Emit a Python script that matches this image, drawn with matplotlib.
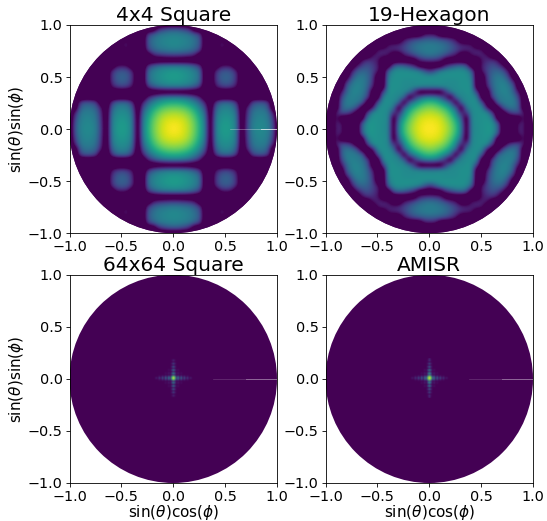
import matplotlib
matplotlib.use("Agg")
import matplotlib.pyplot as plt
from matplotlib.patches import Circle
import numpy as np

# one quadrant of each pattern (rows go up in y, columns go right in x)
square4 = [
    [1.00, .98, .94, .87, .77, .62, .42, 0, .42, .53, .55, .53, .42, 0, .18, .42, .47, .47, .44, .28, 0],
    [.98, .97, .93, .86, .76, .61, .41, 0, .42, .52, .54, .52, .41, 0, .17, .41, .46, .46, .43, .26, 0],
    [.94, .93, .90, .83, .73, .58, .38, 0, .40, .50, .52, .50, .40, 0, .15, .39, .44, .45, .41, .20, 0],
    [.87, .86, .83, .77, .67, .52, .32, 0, .36, .47, .49, .47, .36, 0, .12, .36, .42, .42, .38, .10, 0],
    [.77, .76, .73, .67, .57, .43, .22, 0, .28, .42, .44, .42, .28, 0, .06, .30, .36, .37, .30, 0, 0],
    [.62, .61, .58, .52, .43, .30, .08, 0, .14, .32, .35, .32, .14, 0, 0, .18, .26, .27, .18, 0, 0],
    [.42, .41, .38, .32, .22, .08, 0, 0, 0, 0, 0, 0, 0, 0, 0, 0, 0, 0, 0, 0, 0],
    [0, 0, 0, 0, 0, 0, 0, 0, 0, 0, 0, 0, 0, 0, 0, 0, 0, 0, 0, 0, 0],
    [.42, .42, .40, .36, .28, .14, 0, 0, .04, .16, .20, .16, .04, 0, 0, 0, 0, 0, 0, 0, 0],
    [.53, .52, .50, .47, .42, .32, 0, 0, .12, .27, .30, .27, .12, 0, 0, 0, .07, .04, 0, 0, 0],
    [.55, .54, .52, .49, .44, .35, 0, 0, .14, .29, .32, .29, .14, 0, 0, 0, .03, 0, 0, 0, 0],
    [.53, .52, .50, .47, .42, .32, 0, 0, .10, .24, .27, .24, .10, 0, 0, 0, 0, 0, 0, 0, 0],
    [.42, .41, .40, .36, .28, .14, 0, 0, 0, .03, .06, .03, 0, 0, 0, 0, 0, 0, 0, 0, 0],
    [0, 0, 0, 0, 0, 0, 0, 0, 0, 0, 0, 0, 0, 0, 0, 0, 0, 0, 0, 0, 0],
    [.18, .17, .15, .12, .06, 0, 0, 0, 0, 0, 0, 0, 0, 0, 0, 0, 0, 0, 0, 0, 0],
    [.42, .41, .39, .36, .30, .18, 0, 0, 0, .04, 0, 0, 0, 0, 0, 0, 0, 0, 0, 0, 0],
    [.47, .46, .44, .42, .36, .26, 0, 0, 0, .10, .06, 0, 0, 0, 0, 0, 0, 0, 0, 0, 0],
    [.47, .46, .45, .42, .37, .27, 0, 0, 0, .03, 0, 0, 0, 0, 0, 0, 0, 0, 0, 0, 0],
    [.44, .43, .41, .38, .30, .18, 0, 0, 0, 0, 0, 0, 0, 0, 0, 0, 0, 0, 0, 0, 0],
    [.28, .26, .20, .10, 0, 0, 0, 0, 0, 0, 0, 0, 0, 0, 0, 0, 0, 0, 0, 0, 0],
    [0, 0, 0, 0, 0, 0, 0, 0, 0, 0, 0, 0, 0, 0, 0, 0, 0, 0, 0, 0, 0],
]

hexagon19 = [
    [1.00, .99, .96, .90, .81, .68, .45, 0, .45, .49, .50, .52, .52, .34, 0, 0, 0, .08, .08, 0, 0],
    [.99, .98, .95, .88, .79, .66, .42, 0, .45, .49, .50, .52, .51, .30, 0, 0, 0, .06, .10, 0, 0],
    [.96, .95, .92, .84, .74, .58, .30, 0, .47, .49, .50, .51, .44, 0, 0, 0, 0, 0, .08, 0, 0],
    [.90, .88, .84, .77, .66, .46, .08, .12, .47, .49, .50, .50, .16, 0, 0, .10, .22, .25, .08, 0, 0],
    [.81, .79, .74, .66, .52, .30, 0, .40, .48, .50, .48, .03, 0, 0, .24, .37, .39, .30, 0, 0, 0],
    [.68, .66, .58, .46, .30, 0, .36, .47, .49, .50, .26, 0, 0, .32, .40, .42, .42, .30, 0, 0, 0],
    [.45, .42, .30, .08, 0, .36, .45, .48, .50, .46, 0, 0, .20, .38, .42, .44, .42, .20, 0, 0, 0],
    [0, 0, 0, .12, .40, .47, .48, .50, .50, .18, 0, 0, .28, .41, .45, .45, .32, .05, 0, 0, 0],
    [.45, .45, .47, .47, .48, .48, .50, .50, .50, 0, 0, .08, .33, .42, .46, .42, .30, 0, 0, 0, 0],
    [.49, .49, .49, .48, .48, .48, .50, .50, .48, 0, 0, .14, .35, .42, .44, .36, .12, 0, 0, 0, 0],
    [.50, .50, .50, .50, .50, .50, .50, .50, .42, 0, 0, .18, .35, .40, .38, .22, 0, 0, 0, 0, 0],
    [.14, .28, .45, .48, .50, .50, .50, .48, .32, 0, .06, .20, .30, .33, .28, .05, 0, 0, 0, 0, 0],
    [0, 0, 0, .10, .22, .32, .36, .26, 0, 0, .08, .18, .25, .20, .05, 0, 0, 0, 0, 0, 0],
    [.14, .12, .06, 0, 0, 0, 0, 0, 0, 0, .05, .12, .15, .05, 0, 0, 0, 0, 0, 0, 0],
    [.38, .36, .31, .23, .12, .05, 0, 0, .04, .08, .10, .06, 0, 0, 0, 0, 0, 0, 0, 0, 0],
    [.42, .41, .39, .35, .28, .20, .12, .10, .10, .10, .06, 0, 0, 0, 0, 0, 0, 0, 0, 0, 0],
    [.42, .41, .39, .35, .28, .18, .10, .08, .05, 0, 0, 0, 0, 0, 0, 0, 0, 0, 0, 0, 0],
    [.32, .31, .28, .23, .15, .05, 0, 0, 0, 0, 0, 0, 0, 0, 0, 0, 0, 0, 0, 0, 0],
    [.05, .04, 0, 0, 0, 0, 0, 0, 0, 0, 0, 0, 0, 0, 0, 0, 0, 0, 0, 0, 0],
    [0, 0, 0, 0, 0, 0, 0, 0, 0, 0, 0, 0, 0, 0, 0, 0, 0, 0, 0, 0, 0],
    [0, 0, 0, 0, 0, 0, 0, 0, 0, 0, 0, 0, 0, 0, 0, 0, 0, 0, 0, 0, 0],
]

square64 = [
    [1.0, .72, .10, .50, .05, .42, .03, .32, .02, .22, .01, .12, 0],
    [.78, .50, .05, .28, .02, .20, .01, .12, 0, .06, 0, 0, 0],
    [.10, .05, 0, 0, 0, 0, 0, 0, 0, 0, 0, 0, 0],
    [.55, .25, 0, .10, 0, .05, 0, 0, 0, 0, 0, 0, 0],
    [.05, 0, 0, 0, 0, 0, 0, 0, 0, 0, 0, 0, 0],
    [.48, .20, 0, .05, 0, 0, 0, 0, 0, 0, 0, 0, 0],
    [.03, 0, 0, 0, 0, 0, 0, 0, 0, 0, 0, 0, 0],
    [.38, .12, 0, 0, 0, 0, 0, 0, 0, 0, 0, 0, 0],
    [.02, 0, 0, 0, 0, 0, 0, 0, 0, 0, 0, 0, 0],
    [.28, .08, 0, 0, 0, 0, 0, 0, 0, 0, 0, 0, 0],
    [0, 0, 0, 0, 0, 0, 0, 0, 0, 0, 0, 0, 0],
    [.14, .03, 0, 0, 0, 0, 0, 0, 0, 0, 0, 0, 0],
    [0, 0, 0, 0, 0, 0, 0, 0, 0, 0, 0, 0, 0],
]

amisr = [
    [1.0, .80, .20, .45, .05, .40, .03, .30, .02, .20, .01, .10, 0],
    [.85, .62, .10, .28, .02, .18, .01, .10, 0, .05, 0, 0, 0],
    [.25, .12, 0, .03, 0, 0, 0, 0, 0, 0, 0, 0, 0],
    [.62, .30, 0, .12, 0, .05, 0, 0, 0, 0, 0, 0, 0],
    [.10, .03, 0, 0, 0, 0, 0, 0, 0, 0, 0, 0, 0],
    [.55, .25, 0, .06, 0, 0, 0, 0, 0, 0, 0, 0, 0],
    [.05, 0, 0, 0, 0, 0, 0, 0, 0, 0, 0, 0, 0],
    [.40, .14, 0, 0, 0, 0, 0, 0, 0, 0, 0, 0, 0],
    [.03, 0, 0, 0, 0, 0, 0, 0, 0, 0, 0, 0, 0],
    [.30, .08, 0, 0, 0, 0, 0, 0, 0, 0, 0, 0, 0],
    [0, 0, 0, 0, 0, 0, 0, 0, 0, 0, 0, 0, 0],
    [.18, .03, 0, 0, 0, 0, 0, 0, 0, 0, 0, 0, 0],
    [.08, 0, 0, 0, 0, 0, 0, 0, 0, 0, 0, 0, 0],
]

titles = ["4x4 Square", "19-Hexagon", "64x64 Square", "AMISR"]
patterns = [square4, hexagon19, square64, amisr]
grid_steps = [0.05, 0.05, 0.015, 0.015]
# how far below the colour range the nulls lie, this keeps the lobe edges steep
null_floors = [-0.2, -0.18, -0.05, -0.05]
# thin seam along y=0: start of the faint part, start of the bright part, and their strength
seam_starts = [0.55, None, 0.38, 0.38]
seam_bright_starts = [0.85, None, 0.70, 0.70]
seam_alphas = [(0.4, 0.6), None, (0.2, 0.3), (0.2, 0.3)]
ticks = [-1.0, -0.5, 0.0, 0.5, 1.0]


def mirror(quadrant):
    q = np.array(quadrant, dtype=float)
    top = np.hstack([q[:, :0:-1], q])
    return np.vstack([top[:0:-1], top])


fig, axs = plt.subplots(2, 2, figsize=(5.47, 5.21), dpi=100)
fig.subplots_adjust(left=69.5/547, right=533/547, top=1-25/521, bottom=1-483/521, wspace=0.234, hspace=0.2)
dark = plt.get_cmap("viridis")(0.0)

for i, ax in enumerate(axs.flat):
    full = mirror(patterns[i])
    full[full == 0] = null_floors[i]
    half = (full.shape[0] - 1)/2*grid_steps[i] + grid_steps[i]/2
    ax.add_patch(Circle((0, 0), 1.0, facecolor=dark, edgecolor="none", zorder=1))
    im = ax.imshow(full, extent=[-half, half, -half, half], origin="lower", cmap="viridis", vmin=0, vmax=1,
                   interpolation="bicubic", aspect="auto", zorder=2)
    im.set_clip_path(Circle((0, 0), 1.0, transform=ax.transData))
    if seam_starts[i] is not None:
        ax.plot([seam_starts[i], 1.0], [0, 0], color="white", lw=0.5, alpha=seam_alphas[i][0], zorder=3)
        ax.plot([seam_bright_starts[i], 1.0], [0, 0], color="white", lw=0.7, alpha=seam_alphas[i][1], zorder=3)
    ax.set_xlim(-1, 1)
    ax.set_ylim(-1, 1)
    ax.set_xticks(ticks)
    ax.set_yticks(ticks)
    ax.tick_params(labelsize=10.4, pad=2, length=3, width=0.6)
    for spine in ax.spines.values():
        spine.set_linewidth(0.6)
    ax.set_title(titles[i], fontsize=14.5, pad=3)

axs[0, 0].set_ylabel(r"$\sin(\theta)\sin(\phi)$", fontsize=11, labelpad=1)
axs[1, 0].set_ylabel(r"$\sin(\theta)\sin(\phi)$", fontsize=11, labelpad=1)
axs[1, 0].set_xlabel(r"$\sin(\theta)\cos(\phi)$", fontsize=11, labelpad=-1)
axs[1, 1].set_xlabel(r"$\sin(\theta)\cos(\phi)$", fontsize=11, labelpad=-1)

fig.savefig("out.png", dpi=100)
